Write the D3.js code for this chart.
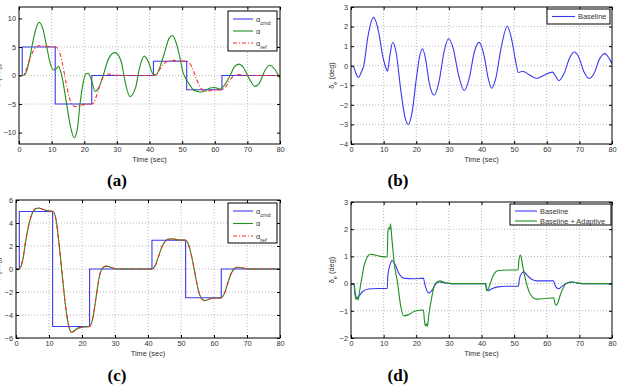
<!DOCTYPE html>
<html>
<head>
<meta charset="utf-8">
<script src="https://cdn.jsdelivr.net/npm/d3@7"></script>
<style>
  body { margin: 0; background: #fff; }
  svg { display: block; font-family: "Liberation Sans", Arial, sans-serif; }
</style>
</head>
<body>
<div id="chart"></div>
<script>
// Shared time axis (seconds)
var timeTicks = [0, 10, 20, 30, 40, 50, 60, 70, 80];

// Panel (a): angle-of-attack tracking, baseline only
var alphaCmd = [[0,0],[1,5],[11.1,-5],[22.3,0],[41.2,2.5],[51.4,-2.5],[62.2,0],[80,0]];
var alphaRefA = [[0,0],[1,0],[2,0.7],[3,2.4],[4,3.9],[5,4.8],[6,5.2],[7,5.25],[8,5.15],[9.5,5.05],[11.2,5.0],
  [12.2,4.4],[13.2,2.4],[14.2,-0.6],[15.2,-3.4],[16.2,-5.0],[17.2,-5.45],[18.2,-5.35],[19.3,-5.15],[20.5,-5.05],[22.3,-5.0],
  [23.3,-4.3],[24.3,-2.6],[25.3,-0.9],[26.3,0.05],[27.3,0.25],[28.5,0.18],[30,0.05],[32,0],[41.2,0],
  [42.2,0.3],[43.2,1.1],[44.2,1.9],[45.2,2.4],[46.2,2.6],[47.2,2.65],[48.5,2.58],[50,2.52],[51.4,2.5],
  [52.4,2.1],[53.4,0.9],[54.4,-0.6],[55.4,-1.9],[56.4,-2.6],[57.4,-2.75],[58.5,-2.65],[60,-2.55],[62.2,-2.5],
  [63.2,-2.1],[64.2,-1.2],[65.2,-0.4],[66.2,0.05],[67.2,0.15],[68.3,0.1],[70,0.03],[72,0],[80,0]];
var alphaA = [[0,0],[1,0],[2,0.3],[3,2.2],[4,5.2],[5,7.8],[6.2,9.3],[7.3,8.2],[8.5,5.0],[9.5,2.3],[10.5,1.0],[11.3,1.1],[12.1,1.6],
  [13.1,0],[14.6,-5.0],[15.8,-9.0],[16.9,-10.9],[17.9,-9.3],[18.7,-5.0],[19.6,-1.5],[20.4,0.2],[21.2,0.4],[22.3,-1.0],
  [23.3,-2.8],[24.3,-2.3],[25.8,0],[27.5,3.0],[29.4,4.0],[31.3,2.5],[32.5,-1.0],[34.0,-3.7],[35.8,-2.0],[36.8,1.0],
  [38.4,3.4],[39.8,2.2],[41.0,0.3],[42.0,0.1],[43.0,1.2],[44.5,3.8],[46,6.5],[47,7.0],[48,6.0],[49.2,3.5],[50.3,0.5],
  [51.2,-0.6],[52.3,-1.6],[53.4,-2.5],[54.8,-2.8],[56,-2.9],[57.3,-2.6],[58.5,-2.2],[60,-2.1],[61.6,-2.4],[62.8,-1.8],
  [64.7,0],[66.0,1.5],[67.4,2.0],[68.8,1.4],[70.5,-0.5],[72.3,-1.9],[73.8,-1.2],[75.3,0.8],[76.9,1.8],[78.5,1.0],[80,-0.5]];

// Panel (b): elevator deflection, baseline only
var deltaB = [[0,0],[0.8,-0.05],[1.5,-0.4],[2.3,-0.6],[3.1,-0.35],[3.9,0],[5.2,1.5],[6.9,2.47],[8.5,1.7],[9.7,0.5],[10.5,0],
  [11.2,-0.28],[11.9,0.5],[12.8,1.2],[13.8,0.7],[15.3,-1.3],[16.5,-2.6],[17.6,-3.0],[18.7,-2.4],[20.0,-0.7],[21.0,0.45],
  [21.9,0.87],[22.8,0.4],[24.0,-0.9],[25.5,-1.5],[27.0,-0.8],[28.5,0.7],[29.9,1.38],[31.3,0.9],[33.0,-0.5],[34.7,-1.27],
  [36.3,-0.6],[37.8,0.7],[39.3,1.19],[40.8,0.5],[42.0,-0.6],[43.1,-1.15],[44.3,-0.7],[46.0,0.9],[47.9,2.02],[49.3,1.3],
  [50.5,0.2],[51.3,-0.35],[52.6,-0.28],[54.5,-0.45],[56.9,-0.65],[59.0,-0.5],[61.8,-0.33],[62.6,-0.5],[63.7,-0.77],
  [65.3,-0.4],[67.0,0.4],[68.4,0.7],[69.8,0.45],[71.5,-0.35],[73.0,-0.65],[74.5,-0.4],[76.2,0.35],[77.8,0.62],[79.2,0.35],[80,0.1]];

// Panel (c): tracking with adaptive augmentation
var alphaRefC = [[0,0],[1,0],[2,0.8],[3,2.6],[4,4.0],[5,4.9],[6,5.25],[7,5.3],[8,5.2],[9,5.1],[10,5.05],[11.2,5.0],
  [12.1,4.3],[13,2.3],[14,-0.5],[15,-3.2],[16,-5.0],[16.8,-5.5],[18,-5.35],[19,-5.15],[20.5,-5.05],[22.3,-5.0],
  [23.3,-4.2],[24.3,-2.4],[25.3,-0.6],[26.3,0.1],[27.3,0.25],[28.3,0.2],[29.3,0.08],[31,0],[41.2,0],
  [42.2,0.3],[43.2,1.1],[44.2,1.9],[45.2,2.4],[46.2,2.6],[47.2,2.62],[48.2,2.58],[49.5,2.52],[51.4,2.5],
  [52.3,2.1],[53.3,1.0],[54.3,-0.5],[55.3,-1.9],[56.3,-2.6],[57.2,-2.75],[58.3,-2.65],[59.5,-2.55],[62.2,-2.5],
  [63.2,-2.1],[64.2,-1.2],[65.2,-0.4],[66.2,0.05],[67.2,0.15],[68.2,0.12],[69.5,0.05],[71,0],[80,0]];
var alphaC = [[0,0],[1,0],[2,0.7],[3,2.5],[4,4.0],[5,4.9],[6,5.25],[7,5.3],[8,5.2],[9,5.1],[10,5.05],[11.2,5.0],
  [12.1,4.35],[13,2.3],[14,-0.5],[15,-3.2],[16,-5.0],[16.8,-5.5],[18,-5.3],[19,-5.1],[20.5,-5.05],[22.3,-5.0],
  [23.3,-4.25],[24.3,-2.4],[25.3,-0.6],[26.3,0.1],[27.3,0.25],[28.3,0.2],[29.3,0.08],[31,0],[41.2,0],
  [42.2,0.3],[43.2,1.1],[44.2,1.9],[45.2,2.4],[46.2,2.6],[47.2,2.62],[48.2,2.58],[49.5,2.52],[51.4,2.5],
  [52.3,2.1],[53.3,1.0],[54.3,-0.5],[55.3,-1.9],[56.3,-2.6],[57.2,-2.75],[58.3,-2.65],[59.5,-2.55],[62.2,-2.5],
  [63.2,-2.1],[64.2,-1.2],[65.2,-0.4],[66.2,0.05],[67.2,0.15],[68.2,0.12],[69.5,0.05],[71,0],[80,0]];

// Panel (d): elevator deflection, baseline vs baseline + adaptive
var deltaBaseD = [[0,0],[0.9,0],[1.3,-0.35],[1.8,-0.52],[2.5,-0.45],[3.5,-0.3],[5.4,-0.2],[8,-0.18],[11.1,-0.18],
  [11.3,0.3],[12,0.7],[12.6,0.85],[13.5,0.7],[14.8,0.35],[16.1,0.2],[19,0.18],[22.2,0.2],[22.6,0],[23.2,-0.25],
  [23.9,-0.35],[24.8,-0.25],[25.8,-0.05],[26.8,0.06],[28,0.04],[30,0.01],[32,0],[41.2,0],[41.7,-0.22],[42.1,-0.26],
  [43,-0.2],[45,-0.12],[48,-0.1],[51.3,-0.1],[51.6,0.15],[52.3,0.38],[52.9,0.43],[54,0.3],[55.5,0.15],[57,0.1],
  [62.1,0.1],[62.5,-0.05],[63.2,-0.17],[63.7,-0.19],[64.6,-0.1],[66,0],[68,0.05],[70,0.01],[72,0],[80,0]];
var deltaAdaptD = [[0,0],[0.9,0],[1.2,-0.4],[1.5,-0.58],[1.8,-0.5],[2.2,-0.6],[2.6,-0.3],[3.3,0.2],[4,0.65],[5,0.98],
  [5.9,1.08],[7,1.06],[9,1.0],[11.1,0.98],[11.3,1.9],[11.6,2.05],[11.9,2.0],[12.1,2.2],[12.5,1.7],[13.2,0.8],
  [14.3,0],[15.2,-0.8],[16.1,-1.18],[17.5,-1.15],[19.5,-1.02],[22.2,-0.97],[22.5,-1.35],[22.8,-1.55],[23.1,-1.48],
  [23.4,-1.58],[23.8,-1.2],[24.6,-0.6],[25.8,0],[27.3,0.1],[28.5,0.05],[30,0.01],[32,0],[41.2,0],[41.6,-0.27],
  [42.0,-0.22],[42.8,0.05],[43.8,0.35],[45.2,0.48],[48,0.5],[51.2,0.5],[51.5,0.9],[51.9,1.05],[52.2,0.95],
  [52.7,0.6],[53.8,0],[55,-0.4],[56.9,-0.57],[59.5,-0.55],[62.1,-0.52],[62.5,-0.72],[62.9,-0.8],[63.3,-0.74],
  [64.2,-0.4],[65.9,0],[67.5,0.07],[69,0.03],[71,0],[80,0]];

var svg = d3.select("#chart").append("svg")
  .attr("width", 617)
  .attr("height", 390);

var blue = "#3a3af0", green = "#1f8f1f", red = "#ff2a2a";
var fs = 7.4;

function drawPanel(p) {
  var x = d3.scaleLinear().domain([0, 80]).range([p.left, p.right]);
  var y = d3.scaleLinear().domain(p.yDomain).range([p.bottom, p.top]);
  var g = svg.append("g");

  // dotted grid
  g.selectAll(".gx").data(timeTicks.slice(1, -1)).enter().append("line")
    .attr("x1", d => x(d)).attr("x2", d => x(d))
    .attr("y1", p.top).attr("y2", p.bottom)
    .attr("stroke", "#888").attr("stroke-width", 0.6).attr("stroke-dasharray", "1,2");
  g.selectAll(".gy").data(p.yTicks.slice(1, -1)).enter().append("line")
    .attr("x1", p.left).attr("x2", p.right)
    .attr("y1", d => y(d)).attr("y2", d => y(d))
    .attr("stroke", "#888").attr("stroke-width", 0.6).attr("stroke-dasharray", "1,2");

  var clipId = "clip" + p.id;
  svg.append("clipPath").attr("id", clipId).append("rect")
    .attr("x", p.left).attr("y", p.top)
    .attr("width", p.right - p.left).attr("height", p.bottom - p.top);

  p.series.forEach(function(s) {
    var line = d3.line()
      .x(d => x(d[0]))
      .y(d => y(d[1]))
      .curve(s.step ? d3.curveStepAfter : d3.curveMonotoneX);
    g.append("path")
      .datum(s.data)
      .attr("clip-path", "url(#" + clipId + ")")
      .attr("fill", "none")
      .attr("stroke", s.color)
      .attr("stroke-width", 1.1)
      .attr("stroke-dasharray", s.dash || null)
      .attr("d", line);
  });

  // axes with inward ticks, MATLAB style
  function strip(a) { a.select(".domain").remove(); a.selectAll("text").attr("fill", "#333").attr("font-size", fs); }
  g.append("g").attr("transform", `translate(0,${p.bottom})`)
    .call(d3.axisBottom(x).tickValues(timeTicks).tickSize(-3).tickPadding(3)).call(strip);
  g.append("g").attr("transform", `translate(0,${p.top})`)
    .call(d3.axisTop(x).tickValues(timeTicks).tickSize(-3).tickFormat("")).call(strip);
  g.append("g").attr("transform", `translate(${p.left},0)`)
    .call(d3.axisLeft(y).tickValues(p.yTicks).tickSize(-3).tickPadding(3).tickFormat(d => d < 0 ? "\u2212" + (-d) : d)).call(strip);
  g.append("g").attr("transform", `translate(${p.right},0)`)
    .call(d3.axisRight(y).tickValues(p.yTicks).tickSize(-3).tickFormat("")).call(strip);

  g.append("rect")
    .attr("x", p.left).attr("y", p.top)
    .attr("width", p.right - p.left).attr("height", p.bottom - p.top)
    .attr("fill", "none").attr("stroke", "#000").attr("stroke-width", 1);

  // x label
  g.append("text")
    .attr("x", (p.left + p.right) / 2)
    .attr("y", p.bottom + 18)
    .attr("text-anchor", "middle")
    .attr("font-size", fs).attr("fill", "#333")
    .text("Time (sec)");

  // y label
  var yl = g.append("text")
    .attr("transform", `translate(${p.yLabelX},${(p.top + p.bottom) / 2}) rotate(-90)`)
    .attr("text-anchor", "middle")
    .attr("font-size", fs).attr("fill", "#333");
  if (p.yLabel === "delta") {
    yl.append("tspan").text("\u03b4");
    yl.append("tspan").attr("font-size", 5.5).attr("dy", 2.5).text("e");
    yl.append("tspan").attr("dy", -2.5).text(" (deg)");
  } else {
    yl.append("tspan").text("\u03b1 (deg)");
  }

  // legend
  var L = p.legend;
  g.append("rect")
    .attr("x", L.x).attr("y", L.y).attr("width", L.w).attr("height", L.h)
    .attr("fill", "#fff").attr("stroke", "#000").attr("stroke-width", 1);
  L.items.forEach(function(it, i) {
    var ly = L.y + L.first + i * L.step;
    g.append("line")
      .attr("x1", L.x + 5).attr("x2", L.x + 5 + L.lineLen)
      .attr("y1", ly).attr("y2", ly)
      .attr("stroke", it.color).attr("stroke-width", 1.1)
      .attr("stroke-dasharray", it.dash || null);
    var t = g.append("text")
      .attr("x", L.x + 8 + L.lineLen).attr("y", ly + 2.5)
      .attr("font-size", fs).attr("fill", "#333");
    t.append("tspan").text(it.label);
    if (it.sub) t.append("tspan").attr("font-size", 5.5).attr("dy", 3).text(it.sub);
  });

  // panel caption
  svg.append("text")
    .attr("x", p.captionX).attr("y", p.captionY)
    .attr("text-anchor", "middle")
    .attr("font-family", "'Liberation Serif', 'DejaVu Serif', serif")
    .attr("font-weight", "bold").attr("font-size", 17)
    .text(p.caption);
}

var alphaLegend = [
  { label: "\u03b1", sub: "cmd", color: blue },
  { label: "\u03b1", color: green },
  { label: "\u03b1", sub: "ref", color: red, dash: "4,2,1,2" }
];

drawPanel({
  id: "a", left: 19, right: 280, top: 7, bottom: 144,
  yDomain: [-12, 12], yTicks: [-10, -5, 0, 5, 10], yLabel: "alpha", yLabelX: 0,
  series: [
    { data: alphaCmd, color: blue, step: true },
    { data: alphaA, color: green },
    { data: alphaRefA, color: red, dash: "4,2,1,2" }
  ],
  legend: { x: 228, y: 11, w: 49, h: 40, first: 8, step: 12, lineLen: 20, items: alphaLegend },
  caption: "(a)", captionX: 117, captionY: 186
});

drawPanel({
  id: "b", left: 351, right: 612, top: 7, bottom: 144,
  yDomain: [-4, 3], yTicks: [-4, -3, -2, -1, 0, 1, 2, 3], yLabel: "delta", yLabelX: 334,
  series: [
    { data: deltaB, color: blue }
  ],
  legend: { x: 547, y: 9, w: 63, h: 15, first: 7.5, step: 9, lineLen: 23,
    items: [{ label: "Baseline", color: blue }] },
  caption: "(b)", captionX: 398, captionY: 186
});

drawPanel({
  id: "c", left: 16, right: 280, top: 200, bottom: 338,
  yDomain: [-6, 6], yTicks: [-6, -4, -2, 0, 2, 4, 6], yLabel: "alpha", yLabelX: 0,
  series: [
    { data: alphaCmd, color: blue, step: true },
    { data: alphaC, color: green },
    { data: alphaRefC, color: red, dash: "4,2,1,2" }
  ],
  legend: { x: 228, y: 203, w: 49, h: 40, first: 8, step: 12.5, lineLen: 20, items: alphaLegend },
  caption: "(c)", captionX: 117, captionY: 381
});

drawPanel({
  id: "d", left: 351, right: 612, top: 202, bottom: 338,
  yDomain: [-2, 3], yTicks: [-2, -1, 0, 1, 2, 3], yLabel: "delta", yLabelX: 334,
  series: [
    { data: deltaBaseD, color: blue },
    { data: deltaAdaptD, color: green }
  ],
  legend: { x: 510, y: 204, w: 101, h: 21, first: 7, step: 10, lineLen: 22,
    items: [{ label: "Baseline", color: blue }, { label: "Baseline + Adaptive", color: green }] },
  caption: "(d)", captionX: 398, captionY: 381
});
</script>
</body>
</html>
